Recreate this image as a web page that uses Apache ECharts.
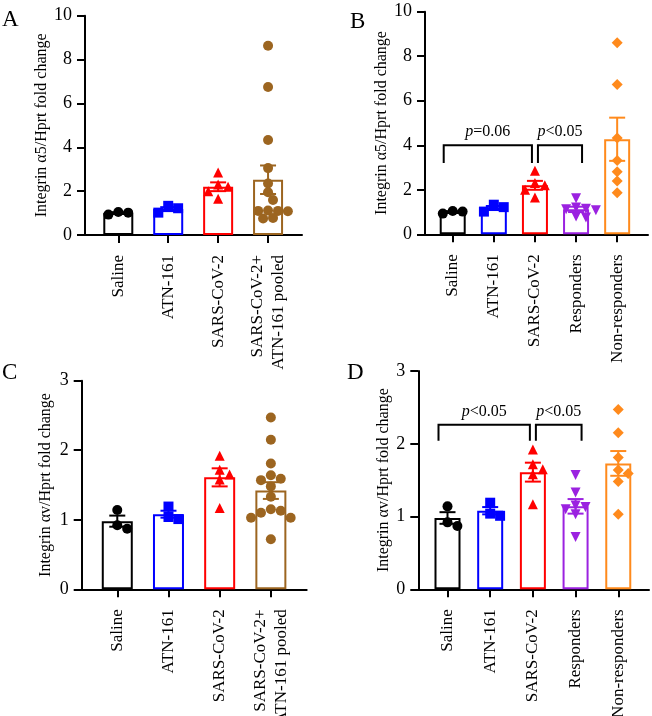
<!DOCTYPE html>
<html><head><meta charset="utf-8">
<script src="https://cdn.jsdelivr.net/npm/echarts@6/dist/echarts.min.js"></script>
<style>html,body{margin:0;padding:0;background:#fff}#c{width:652px;height:716px}</style>
</head><body><div id="c"></div>
<script>
// ---- categories / tick labels ----
const catsAC = ['Saline', 'ATN-161', 'SARS-CoV-2', 'SARS-CoV-2+\nATN-161 pooled'];
const catsBD = ['Saline', 'ATN-161', 'SARS-CoV-2', 'Responders', 'Non-responders'];
const yTitleA5 = 'Integrin α5/Hprt fold change';
const yTitleAV = 'Integrin αv/Hprt fold change';

// ---- Panel A (integrin α5) ----
const aSaline = [0.93, 1.05, 1.02];
const aAtn = [1.02, 1.33, 1.22];
const aSars = [2.85, 2.3, 2.2, 2.0, 1.65];
const aPooled = [8.63, 6.75, 4.33, 3.05, 2.35, 1.95, 1.6, 1.12, 1.1, 1.1, 1.08, 0.78, 0.75];
const aMean = [1.0, 1.18, 2.2, 2.52];
const aSem = [0.04, 0.09, 0.2, 0.65];

// ---- Panel B (integrin α5) ----
const bSaline = [0.93, 1.05, 1.02];
const bAtn = [1.02, 1.33, 1.22];
const bSars = [2.85, 2.3, 2.2, 2.0, 1.65];
const bResp = [1.62, 1.2, 1.15, 1.12, 1.08, 0.8, 0.75];
const bNonResp = [8.6, 6.73, 4.33, 3.31, 2.81, 2.39, 1.87];
const bMean = [1.0, 1.18, 2.2, 1.12, 4.27];
const bSem = [0.04, 0.09, 0.2, 0.12, 0.97];
const bBrackets = [[0, 2, 4.0, 3.2, 'p', '=0.06'], [2, 3, 4.0, 3.2, 'p', '<0.05']];

// ---- Panel C (integrin αv) ----
const cSaline = [1.14, 0.87, 0.92];
const cAtn = [1.19, 1.01, 1.04];
const cSars = [1.92, 1.72, 1.65, 1.58, 1.17];
const cPooled = [2.47, 2.15, 1.81, 1.64, 1.59, 1.57, 1.48, 1.33, 1.15, 1.13, 1.1, 1.03, 1.03, 0.72];
const cMean = [0.98, 1.08, 1.61, 1.42];
const cSem = [0.08, 0.05, 0.13, 0.12];

// ---- Panel D (integrin αv) ----
const dSaline = [1.14, 0.87, 0.92];
const dAtn = [1.19, 1.01, 1.04];
const dSars = [1.92, 1.72, 1.65, 1.58, 1.17];
const dResp = [1.57, 1.33, 1.15, 1.13, 1.1, 1.03, 0.72];
const dNonResp = [2.47, 2.15, 1.81, 1.64, 1.59, 1.48, 1.03];
const dMean = [0.98, 1.08, 1.61, 1.14, 1.73];
const dSem = [0.08, 0.05, 0.13, 0.1, 0.17];
const dBrackets = [[0, 2, 2.26, 2.04, 'p', '<0.05'], [2, 3, 2.26, 2.04, 'p', '<0.05']];

// ---- styles ----
const FONT = "'Liberation Serif','Times New Roman',serif";
const BLACK = '#000000', BLUE = '#0000ff', RED = '#ff0000', BROWN = '#9c6520', PURPLE = '#9b22e0', ORANGE = '#ff8a1c';

const panels = [
  { letter: 'A', lx: 2, ly: 8, grid: { left: 85, top: 15.7, width: 217, height: 219.3 }, xr: [-0.667, 3.68], yMax: 10, yInt: 2,
    cats: catsAC, title: yTitleA5, gap: 35, barW: 30, cap: 8,
    groups: [aSaline, aAtn, aSars, aPooled], mean: aMean, sem: aSem,
    colors: [BLACK, BLUE, RED, BROWN], symbols: ['circle', 'rect', 'triangle', 'circle'], rot: [0, 0, 0, 0], brackets: null },
  { letter: 'B', lx: 350, ly: 10, grid: { left: 425, top: 11.7, width: 223, height: 222.6 }, xr: [-0.674, 4.75], yMax: 10, yInt: 2,
    cats: catsBD, title: yTitleA5, gap: 34, barW: 26, cap: 8,
    groups: [bSaline, bAtn, bSars, bResp, bNonResp], mean: bMean, sem: bSem,
    colors: [BLACK, BLUE, RED, PURPLE, ORANGE], symbols: ['circle', 'rect', 'triangle', 'triangle', 'diamond'], rot: [0, 0, 0, 180, 0], brackets: bBrackets },
  { letter: 'C', lx: 2, ly: 361, grid: { left: 81.7, top: 380.7, width: 225, height: 208.6 }, xr: [-0.695, 3.7], yMax: 3, yInt: 1,
    cats: catsAC, title: yTitleAV, gap: 28, barW: 31, cap: 8,
    groups: [cSaline, cAtn, cSars, cPooled], mean: cMean, sem: cSem,
    colors: [BLACK, BLUE, RED, BROWN], symbols: ['circle', 'rect', 'triangle', 'circle'], rot: [0, 0, 0, 0], brackets: null },
  { letter: 'D', lx: 347, ly: 361, grid: { left: 418.3, top: 371, width: 230.7, height: 218.3 }, xr: [-0.684, 4.72], yMax: 3, yInt: 1,
    cats: catsBD, title: yTitleAV, gap: 27, barW: 26, cap: 8,
    groups: [dSaline, dAtn, dSars, dResp, dNonResp], mean: dMean, sem: dSem,
    colors: [BLACK, BLUE, RED, PURPLE, ORANGE], symbols: ['circle', 'rect', 'triangle', 'triangle', 'diamond'], rot: [0, 0, 0, 180, 0], brackets: dBrackets }
];

// simple beeswarm placement (pixel space) from data values
function swarm(values, idx, pxX, pxY, size) {
  const placed = [];
  const out = [];
  const order = values.map((v, i) => i).sort((a, b) => values[b] - values[a]);
  const step = size * 0.55;
  order.forEach(i => {
    const py = values[i] * pxY;
    let dx = 0;
    for (let k = 0; k < 40; k++) {
      const m = k === 0 ? 0 : (k % 2 ? Math.ceil(k / 2) : -Math.ceil(k / 2));
      const cand = m * step;
      const ok = placed.every(p => Math.hypot(p[0] - cand, p[1] - py) >= size * 0.95);
      if (ok) { dx = cand; break; }
    }
    placed.push([dx, py]);
    out[i] = [idx + dx / pxX, values[i]];
  });
  return out;
}

function errRender(capHalf) {
  return function (params, api) {
    const x = api.value(0), lo = api.value(1), hi = api.value(2);
    const pT = api.coord([x, hi]), pB = api.coord([x, lo]);
    const style = { stroke: api.visual('color'), lineWidth: 2, fill: null };
    return { type: 'group', children: [
      { type: 'line', shape: { x1: pT[0], y1: pT[1], x2: pB[0], y2: pB[1] }, style },
      { type: 'line', shape: { x1: pT[0] - capHalf, y1: pT[1], x2: pT[0] + capHalf, y2: pT[1] }, style },
      { type: 'line', shape: { x1: pB[0] - capHalf, y1: pB[1], x2: pB[0] + capHalf, y2: pB[1] }, style }
    ] };
  };
}

function bracketRender(brackets) {
  return function (params, api) {
    const b = brackets[params.dataIndex];
    const L = api.coord([b[0], b[2]]), R = api.coord([b[1], b[2]]);
    const legY = api.coord([b[0], b[3]])[1];
    const xl = L[0] + (b[0] === 2 ? 3 : -9);
    const xr = R[0] + (b[1] === 2 ? -3 : 6);
    const y = L[1];
    return { type: 'group', children: [
      { type: 'polyline', shape: { points: [[xl, legY], [xl, y], [xr, y], [xr, legY]] }, style: { stroke: '#000', lineWidth: 2, fill: null } },
      { type: 'text', style: { text: '{i|' + b[4] + '}' + b[5], x: (xl + xr) / 2, y: y - 5, align: 'center', verticalAlign: 'bottom',
        fontFamily: FONT, fontSize: 16, fill: '#000',
        rich: { i: { fontStyle: 'italic', fontFamily: FONT, fontSize: 16, fill: '#000' } } } }
    ] };
  };
}

const grids = [], xAxes = [], yAxes = [], series = [], graphics = [];
panels.forEach((p, gi) => {
  grids.push(Object.assign({ containLabel: false, outerBoundsMode: 'none' }, p.grid));
  const ticks = p.cats.map((c, i) => i);
  xAxes.push({
    type: 'value', gridIndex: gi, min: p.xr[0], max: p.xr[1],
    axisLine: { show: true, onZero: false, lineStyle: { color: '#000', width: 2 } },
    axisTick: { show: true, customValues: ticks, length: 8, lineStyle: { color: '#000', width: 2 } },
    axisLabel: { show: true, customValues: ticks, rotate: 90, margin: 20, formatter: v => p.cats[Math.round(v)],
      fontFamily: FONT, fontSize: 17, color: '#000', lineHeight: 21, hideOverlap: false },
    splitLine: { show: false }
  });
  yAxes.push({
    type: 'value', gridIndex: gi, min: 0, max: p.yMax, interval: p.yInt,
    name: p.title, nameLocation: 'middle', nameGap: p.gap,
    nameTextStyle: { fontFamily: FONT, fontSize: 16, color: '#000' },
    axisLine: { show: true, onZero: false, lineStyle: { color: '#000', width: 2 } },
    axisTick: { show: true, length: 8, lineStyle: { color: '#000', width: 2 } },
    axisLabel: { fontFamily: FONT, fontSize: 18, color: '#000', margin: 13 },
    splitLine: { show: false }
  });
  const pxX = p.grid.width / (p.xr[1] - p.xr[0]);
  const pxY = p.grid.height / p.yMax;
  // bars (mean)
  series.push({
    type: 'bar', xAxisIndex: gi, yAxisIndex: gi, barWidth: p.barW, z: 2, silent: true,
    data: p.mean.map((m, i) => ({ value: [i, m], itemStyle: { color: 'rgba(255,255,255,0)', borderColor: p.colors[i], borderWidth: 2 } }))
  });
  // individual points
  p.groups.forEach((vals, i) => {
    series.push({
      type: 'scatter', xAxisIndex: gi, yAxisIndex: gi, z: 3, silent: true,
      symbol: p.symbols[i], symbolRotate: p.rot[i], symbolSize: p.symbols[i] === 'diamond' ? 11 : 10,
      itemStyle: { color: p.colors[i], opacity: 1 },
      data: swarm(vals, i, pxX, pxY, 9)
    });
  });
  // error bars (mean ± SEM)
  series.push({
    type: 'custom', xAxisIndex: gi, yAxisIndex: gi, z: 4, silent: true,
    renderItem: errRender(p.cap),
    data: p.mean.map((m, i) => ({ value: [i, m - p.sem[i], m + p.sem[i]], itemStyle: { color: p.colors[i] } }))
  });
  if (p.brackets) {
    series.push({
      type: 'custom', xAxisIndex: gi, yAxisIndex: gi, z: 5, silent: true, clip: false,
      renderItem: bracketRender(p.brackets),
      data: p.brackets.map(b => [b[0], b[2]])
    });
  }
  graphics.push({ type: 'text', left: p.lx, top: p.ly, style: { text: p.letter, fontFamily: FONT, fontSize: 23, fill: '#000' } });
});

const chart = echarts.init(document.getElementById('c'), null, { renderer: 'canvas' });
chart.setOption({
  backgroundColor: '#fff',
  animation: false,
  grid: grids, xAxis: xAxes, yAxis: yAxes, series: series, graphic: graphics
});
</script>
</body></html>
